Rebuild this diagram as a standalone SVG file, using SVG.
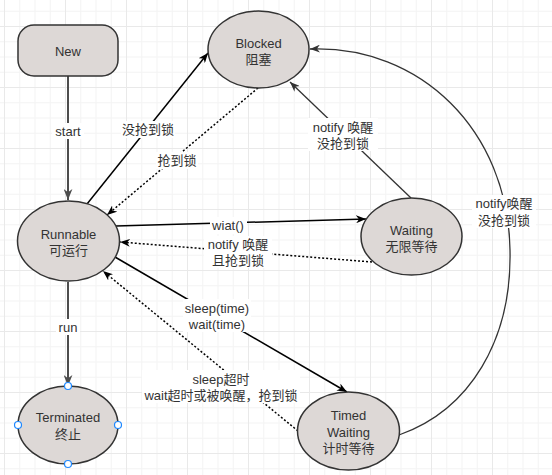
<svg xmlns="http://www.w3.org/2000/svg" width="552" height="475" viewBox="0 0 552 475">
<style>
.node{fill:#ddd8d6;stroke:#333;stroke-width:1.5}
.t{font-family:"Liberation Sans","Noto Sans CJK SC",sans-serif;font-size:13px;fill:#333;text-anchor:middle;dominant-baseline:central}
.e{fill:none;stroke:#000;stroke-width:1.5}
.g{fill:none;stroke:#4d4d4d;stroke-width:2}
.d{fill:none;stroke:#000;stroke-width:1.5;stroke-dasharray:2 2}
.c{fill:none;stroke:#333;stroke-width:1.3}
.lb{fill:#fff}
.h{fill:#fff;stroke:#1e88ff;stroke-width:1.2}
</style>
<defs>
<pattern id="grid" width="61" height="61" patternUnits="userSpaceOnUse" x="4" y="26">
<g fill="#f3f3f3">
<rect x="15.25" y="0" width="1" height="61"/><rect x="30.5" y="0" width="1" height="61"/><rect x="45.75" y="0" width="1" height="61"/>
<rect x="0" y="15.25" width="61" height="1"/><rect x="0" y="30.5" width="61" height="1"/><rect x="0" y="45.75" width="61" height="1"/>
</g>
<g fill="#e9e9e9"><rect x="0" y="0" width="1" height="61"/><rect x="0" y="0" width="61" height="1"/></g>
</pattern>
<marker id="ab" viewBox="0 0 10 8" refX="10" refY="4" markerWidth="10" markerHeight="8" markerUnits="userSpaceOnUse" orient="auto"><path d="M0,0 L10,4 L0,8 L3,4 Z" fill="#000"/></marker>
<marker id="ag" viewBox="0 0 10 8" refX="10" refY="4" markerWidth="11" markerHeight="9" markerUnits="userSpaceOnUse" orient="auto"><path d="M0,0 L10,4 L0,8 L3,4 Z" fill="#4d4d4d"/></marker>
<marker id="ac" viewBox="0 0 10 8" refX="10" refY="4" markerWidth="10" markerHeight="8" markerUnits="userSpaceOnUse" orient="auto"><path d="M0,0 L10,4 L0,8 L3,4 Z" fill="#333"/></marker>
</defs>
<rect width="552" height="475" fill="#fff"/>
<rect width="552" height="475" fill="url(#grid)"/>

<g id="connectors">
<line class="g" x1="68" y1="76" x2="68" y2="200" marker-end="url(#ag)"/>
<line class="g" x1="68" y1="282" x2="68" y2="386" marker-end="url(#ag)"/>
<line class="e" x1="87" y1="204" x2="208" y2="53" marker-end="url(#ab)"/>
<line class="d" x1="258" y1="88" x2="107" y2="215" marker-end="url(#ab)"/>
<line class="e" x1="116" y1="226" x2="366" y2="219" marker-end="url(#ab)"/>
<line class="d" x1="372" y1="262" x2="120" y2="242" marker-end="url(#ab)"/>
<line class="c" x1="411" y1="198" x2="290" y2="82" marker-end="url(#ac)"/>
<line class="e" x1="115" y1="257" x2="347" y2="392" marker-end="url(#ab)"/>
<line class="d" x1="298" y1="431" x2="103" y2="271" marker-end="url(#ab)"/>
<path class="c" d="M399,435 C470,410 512,340 510,250 C508,130 420,45 310,49" marker-end="url(#ac)"/>

<rect class="lb" x="52" y="123" width="32" height="16"/>
<text class="t" x="68" y="131">start</text>
<rect class="lb" x="56" y="319" width="24" height="16"/>
<text class="t" x="68" y="327">run</text>
<rect class="lb" x="121" y="121" width="54" height="17"/>
<text class="t" x="148" y="129">没抢到锁</text>
<rect class="lb" x="156" y="152" width="42" height="17"/>
<text class="t" x="177" y="160">抢到锁</text>
<rect class="lb" x="210" y="217" width="37" height="17"/>
<text class="t" x="228" y="225">wiat()</text>
<rect class="lb" x="204" y="236" width="68" height="32"/>
<text class="t" x="238" y="244">notify 唤醒</text>
<text class="t" x="238" y="260">且抢到锁</text>
<rect class="lb" x="308" y="118" width="70" height="33"/>
<text class="t" x="343" y="127">notify 唤醒</text>
<text class="t" x="343" y="143">没抢到锁</text>
<rect class="lb" x="472" y="195" width="64" height="33"/>
<text class="t" x="504" y="203">notify唤醒</text>
<text class="t" x="504" y="220">没抢到锁</text>
<rect class="lb" x="183" y="299" width="68" height="33"/>
<text class="t" x="217" y="308">sleep(time)</text>
<text class="t" x="217" y="324">wait(time)</text>
<rect class="lb" x="142" y="370" width="158" height="33"/>
<text class="t" x="221" y="379">sleep超时</text>
<text class="t" x="221" y="395">wait超时或被唤醒，抢到锁</text>
</g>

<g id="new">
<rect class="node" x="18" y="25" width="100" height="51" rx="16" ry="16"/>
<text class="t" x="68" y="51">New</text>
</g>
<g id="blocked">
<ellipse class="node" cx="258.5" cy="49.5" rx="50.5" ry="38.5"/>
<text class="t" x="258.5" y="43">Blocked</text>
<text class="t" x="258.5" y="59">阻塞</text>
</g>
<g id="runnable">
<ellipse class="node" cx="68.5" cy="241" rx="51" ry="40"/>
<text class="t" x="68.5" y="234">Runnable</text>
<text class="t" x="68.5" y="250">可运行</text>
</g>
<g id="waiting">
<ellipse class="node" cx="411.5" cy="236.5" rx="50.5" ry="38.5"/>
<text class="t" x="411.5" y="230">Waiting</text>
<text class="t" x="411.5" y="246">无限等待</text>
</g>
<g id="timed-waiting">
<ellipse class="node" cx="348.5" cy="431" rx="51" ry="39"/>
<text class="t" x="348.5" y="415">Timed</text>
<text class="t" x="348.5" y="432">Waiting</text>
<text class="t" x="348.5" y="448">计时等待</text>
</g>
<g id="terminated">
<ellipse class="node" cx="68" cy="425" rx="50" ry="39"/>
<text class="t" x="68" y="417">Terminated</text>
<text class="t" x="68" y="434">终止</text>
<circle class="h" cx="68" cy="386" r="3.5"/>
<circle class="h" cx="18" cy="425" r="3.5"/>
<circle class="h" cx="118" cy="425" r="3.5"/>
<circle class="h" cx="68" cy="464" r="3.5"/>
</g>
</svg>
